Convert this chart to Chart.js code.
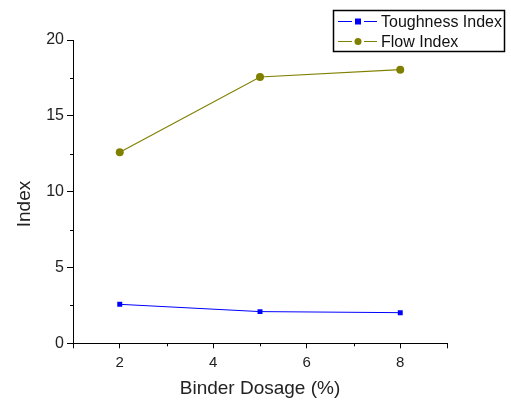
<!DOCTYPE html>
<html>
<head>
<meta charset="utf-8">
<script src="https://cdn.jsdelivr.net/npm/chart.js@4/dist/chart.umd.min.js"></script>
<style>
  html, body { margin: 0; padding: 0; background: #fff; }
  #wrap { width: 511px; height: 404px; }
</style>
</head>
<body>
<div id="wrap"><canvas id="chart" width="511" height="404"></canvas></div>
<script>
/* ---- DATA ---- */
const dosage    = [2, 5, 8];
const toughness = [2.57, 2.09, 2.02];
const flow      = [12.6, 17.56, 18.04];
const yTicks    = [0, 5, 10, 15, 20];
const xTicks    = [2, 4, 6, 8];
const yTitle    = 'Index';

const BLUE  = '#0000ff';
const OLIVE = '#808000';
const FONT  = 'Liberation Sans, Arial, sans-serif';

/* minor ticks halfway between the majors */
const minorTicks = {
  id: 'minorTicks',
  afterDraw(chart) {
    const { ctx, scales: { x, y } } = chart;
    ctx.save();
    ctx.strokeStyle = '#000';
    ctx.lineWidth = 1;
    ctx.beginPath();
    for (let v = 3; v <= 9; v += 2) {
      const px = Math.round(x.getPixelForValue(v)) + 0.5;
      ctx.moveTo(px, x.top);
      ctx.lineTo(px, x.top + 3);
    }
    for (let v = 2.5; v < 20; v += 5) {
      const py = Math.round(y.getPixelForValue(v)) + 0.5;
      ctx.moveTo(y.right, py);
      ctx.lineTo(y.right - 3, py);
    }
    ctx.stroke();
    ctx.restore();
  }
};

/* rotated y title, sitting a little below the axis middle */
const sideTitle = {
  id: 'sideTitle',
  afterDraw(chart) {
    const ctx = chart.ctx;
    ctx.save();
    ctx.translate(25, 204);
    ctx.rotate(-Math.PI / 2);
    ctx.font = '19px ' + FONT;
    ctx.fillStyle = '#222';
    ctx.textAlign = 'center';
    ctx.textBaseline = 'middle';
    ctx.fillText(yTitle, 0, 0);
    ctx.restore();
  }
};

/* boxed legend in the top right corner */
const boxLegend = {
  id: 'boxLegend',
  afterDraw(chart) {
    const ctx = chart.ctx;
    ctx.save();
    ctx.strokeStyle = '#000';
    ctx.lineWidth = 1.5;
    ctx.strokeRect(333.5, 10.5, 171, 41);
    ctx.font = '16px ' + FONT;
    ctx.textBaseline = 'middle';
    chart.data.datasets.forEach((ds, i) => {
      const cy = 21.5 + i * 20;
      ctx.strokeStyle = ds.borderColor;
      ctx.lineWidth = 1;
      ctx.beginPath();
      ctx.moveTo(338, cy);
      ctx.lineTo(352, cy);
      ctx.moveTo(364, cy);
      ctx.lineTo(377, cy);
      ctx.stroke();
      ctx.fillStyle = ds.borderColor;
      if (ds.pointStyle === 'rect') {
        ctx.fillRect(355, cy - 3, 6, 6);
      } else {
        ctx.beginPath();
        ctx.arc(358, cy, 3.5, 0, Math.PI * 2);
        ctx.fill();
      }
      ctx.fillStyle = '#111';
      ctx.fillText(ds.label, 381, cy + 1);
    });
    ctx.restore();
  }
};

new Chart(document.getElementById('chart'), {
  type: 'line',
  data: {
    datasets: [
      {
        label: 'Toughness Index',
        data: dosage.map((d, i) => ({ x: d, y: toughness[i] })),
        borderColor: BLUE,
        backgroundColor: BLUE,
        borderWidth: 1,
        pointStyle: 'rect',
        pointRadius: 3.5,
        pointBorderWidth: 0
      },
      {
        label: 'Flow Index',
        data: dosage.map((d, i) => ({ x: d, y: flow[i] })),
        borderColor: OLIVE,
        backgroundColor: OLIVE,
        borderWidth: 1.2,
        pointStyle: 'circle',
        pointRadius: 4,
        pointBorderWidth: 0
      }
    ]
  },
  options: {
    responsive: false,
    animation: false,
    layout: { padding: { left: 0, right: 64, top: 40, bottom: 0 } },
    plugins: { legend: { display: false }, tooltip: { enabled: false } },
    scales: {
      x: {
        type: 'linear',
        min: 1,
        max: 9,
        afterBuildTicks: s => { s.ticks = [1, ...xTicks, 9].map(v => ({ value: v })); },
        afterFit: s => { s.height = 60.7; },
        border: { display: true, color: '#000', width: 1 },
        grid: { drawOnChartArea: false, color: '#000', tickLength: 5 },
        ticks: {
          color: '#222',
          font: { size: 15, family: FONT },
          padding: 6,
          callback: v => xTicks.includes(v) ? v : ''
        },
        title: {
          display: true,
          text: 'Binder Dosage (%)',
          color: '#222',
          font: { size: 19, family: FONT },
          padding: { top: 0 }
        }
      },
      y: {
        min: 0,
        max: 20,
        afterBuildTicks: s => { s.ticks = yTicks.map(v => ({ value: v })); },
        afterFit: s => { s.width = 73; },
        border: { display: true, color: '#000', width: 1 },
        grid: { drawOnChartArea: false, color: '#000', tickLength: 6 },
        ticks: {
          color: '#222',
          font: { size: 16, family: FONT },
          padding: 3
        }
      }
    }
  },
  plugins: [minorTicks, sideTitle, boxLegend]
});
</script>
</body>
</html>
